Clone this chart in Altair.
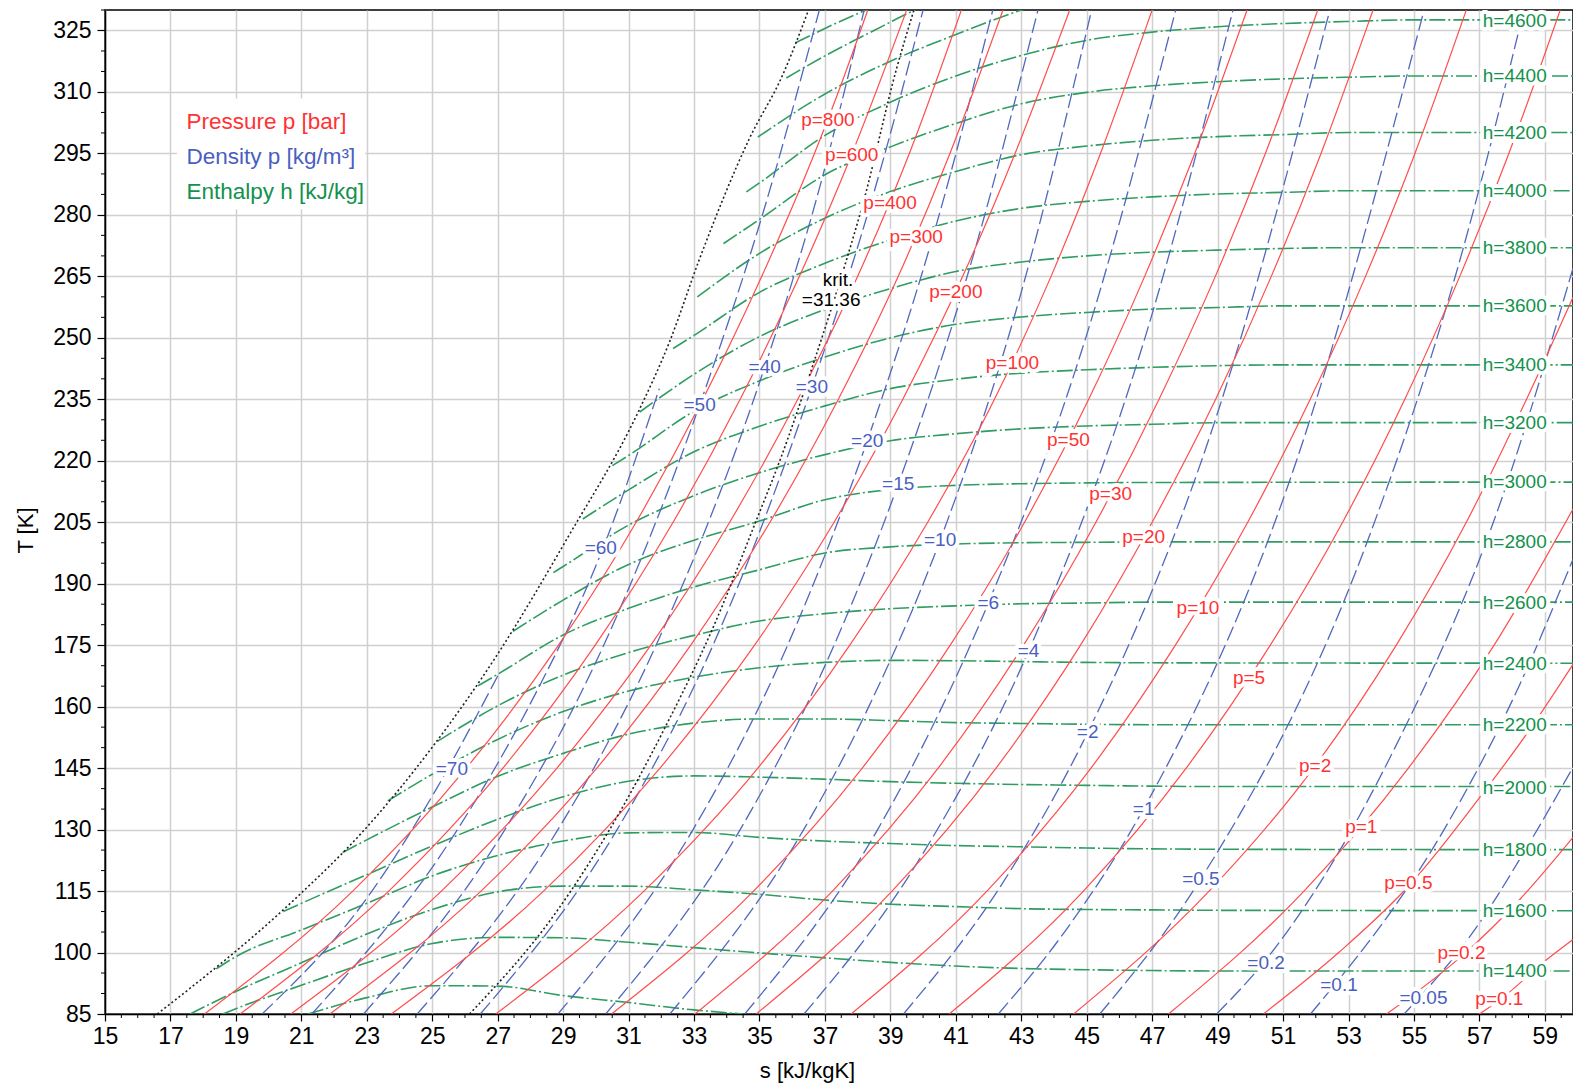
import altair as alt
import pandas as pd

# ---------------- data ----------------
# Isobars (red), s [kJ/kgK] vs T [K]
ISOBAR_NAMES = ["800", "600", "400", "300", "200", "100", "50", "30", "20", "10", "5", "2", "1", "0.5", "0.2", "0.1"]
ISOBAR_S = [
    [18.04, 22.57, 26.04, 28.86, 31.23, 33.27, 35.07, 36.68, 37.41, 38.31],
    [19.13, 23.67, 27.16, 29.98, 32.36, 34.41, 36.22, 37.83, 39.5],
    [20.68, 25.28, 28.81, 31.68, 34.09, 36.17, 38.0, 39.58, 41.17],
    [21.87, 26.49, 30.03, 32.9, 35.32, 37.41, 39.24, 40.82, 42.44],
    [23.75, 28.4, 31.96, 34.85, 37.28, 39.38, 41.21, 42.81, 44.48],
    [26.94, 31.47, 34.95, 37.76, 40.14, 42.18, 43.91, 45.42, 47.0],
    [30.48, 34.82, 38.14, 40.83, 43.1, 45.06, 46.77, 48.3, 49.9],
    [33.03, 37.23, 40.46, 43.07, 45.28, 47.21, 48.93, 50.46, 52.06],
    [34.9, 39.05, 42.23, 44.81, 47.0, 48.94, 50.64, 52.16, 53.75],
    [37.8, 41.95, 45.13, 47.71, 49.92, 51.83, 53.52, 55.03, 56.6],
    [40.8, 44.9, 48.04, 50.61, 52.82, 54.72, 56.4, 57.9, 59.47],
    [44.6, 48.74, 51.93, 54.46, 56.6, 58.44, 59.86],
    [47.5, 51.64, 54.83, 57.45, 59.86],
    [50.4, 52.7, 54.88, 57.12, 58.59, 59.86],
    [54.16, 56.51, 58.24, 59.86],
    [57.0, 57.57, 59.06, 59.86],
]
ISOBAR_T = [
    [85, 115, 145, 175, 205, 235, 265, 295, 310, 330],
    [85, 115, 145, 175, 205, 235, 265, 295, 330],
    [85, 115, 145, 175, 205, 235, 265, 295, 330],
    [85, 115, 145, 175, 205, 235, 265, 295, 330],
    [85, 115, 145, 175, 205, 235, 265, 295, 330],
    [85, 115, 145, 175, 205, 235, 265, 295, 330],
    [85, 115, 145, 175, 205, 235, 265, 295, 330],
    [85, 115, 145, 175, 205, 235, 265, 295, 330],
    [85, 115, 145, 175, 205, 235, 265, 295, 330],
    [85, 115, 145, 175, 205, 235, 265, 295, 330],
    [85, 115, 145, 175, 205, 235, 265, 295, 330],
    [85, 115, 145, 175, 205, 235, 259.9],
    [85, 115, 145, 175, 208.2],
    [85, 100, 116.6, 139, 155, 170.3],
    [85, 99.5, 113, 128.1],
    [85, 88.1, 98.3, 103.2],
]
ISOBAR_LABELS = ["p=800", "p=600", "p=400", "p=300", "p=200", "p=100", "p=50", "p=30", "p=20", "p=10",
                 "p=5", "p=2", "p=1", "p=0.5", "p=0.2", "p=0.1"]
ISOBAR_LABEL_S = [37.09, 37.82, 38.99, 39.79, 41.0, 42.73, 44.44, 45.73, 46.74, 48.4, 49.96, 51.98, 53.39, 54.83, 56.45, 57.61]
ISOBAR_LABEL_T = [303.2, 294.7, 282.9, 274.6, 261.2, 243.8, 225.0, 211.8, 201.3, 184.0, 167.1, 145.6, 130.7, 117.0, 99.9, 88.7]

# Isochores (blue, dashed)
ISOCHORE_NAMES = ["70", "60", "50", "40", "30", "20", "15", "10", "6", "4", "2", "1", "0.5", "0.2", "0.1", "0.05"]
ISOCHORE_S = [
    [19.8, 22.97, 25.11, 27.0],
    [21.32, 25.77, 27.95, 30.21, 31.94],
    [22.9, 27.22, 30.24, 33.17, 35.09, 36.83],
    [24.54, 28.84, 31.84, 35.16, 36.78, 38.2],
    [26.47, 30.65, 33.58, 36.6, 38.48, 40.0],
    [28.84, 32.97, 35.86, 38.29, 40.49, 42.13],
    [30.3, 34.41, 37.28, 39.24, 41.53, 43.51],
    [32.26, 36.35, 38.34, 40.52, 42.96, 45.15],
    [34.55, 38.61, 41.99, 44.97, 47.72],
    [36.36, 39.67, 43.22, 46.78, 49.47],
    [39.4, 42.27, 45.03, 48.93, 52.43],
    [42.3, 44.32, 46.74, 51.41, 55.31],
    [45.4, 48.49, 53.56, 56.44, 58.36],
    [48.97, 50.4, 54.42, 57.65, 59.86],
    [51.84, 55.92, 58.21, 59.86],
    [54.7, 57.02, 58.4, 59.86],
]
ISOCHORE_T = [
    [85, 112.9, 139.7, 167.5],
    [85, 130, 160, 198.5, 237.6],
    [85, 130, 175, 233.6, 280, 330],
    [85, 130, 175, 242.9, 285, 330],
    [85, 130, 175, 238, 285, 330],
    [85, 130, 175, 224.8, 280, 330],
    [85, 130, 175, 214.3, 270, 330],
    [85, 130, 160, 200.6, 260, 330],
    [85, 130, 185.2, 250, 330],
    [85, 120, 173.5, 250, 330],
    [85, 115, 153.7, 230, 330],
    [85, 105, 135.1, 220, 330],
    [85, 118, 200, 270, 330],
    [85, 97.5, 150, 210, 267],
    [85, 130, 165, 196],
    [85, 107.4, 125, 145.2],
]
ISOCHORE_LABELS = ["=70", "=60", "=50", "=40", "=30", "=20", "=15", "=10", "=6", "=4", "=2", "=1",
                   "=0.5", "=0.2", "=0.1", "=0.05"]
ISOCHORE_LABEL_S = [25.6, 30.15, 33.17, 35.16, 36.6, 38.29, 39.24, 40.52, 41.99, 43.22, 45.03, 46.74, 48.49, 50.48, 52.71, 55.29]
ISOCHORE_LABEL_T = [144.9, 198.6, 233.6, 242.9, 238.0, 224.8, 214.3, 200.6, 185.2, 173.5, 153.7, 135.1, 118.0, 97.5, 92.1, 88.9]

# Isenthalps (green, dash-dot)
ISENTH_NAMES = ["1200", "1400", "1600", "1800", "2000", "2200", "2400", "2600", "2800", "3000", "3200",
                "3400", "3600", "3800", "4000", "4200", "4400", "4600", "4800", "5000", "5200"]
ISENTH_S = [
    [21.2, 23, 25, 27, 29, 31, 33, 34.5],
    [18.6, 19, 21, 23, 25, 27, 29, 31, 33, 35, 37, 39, 41, 43, 45, 47, 49, 59.86],
    [17.6, 19, 21, 23, 25, 27, 29, 31, 33, 35, 37, 39, 41, 43, 45, 47, 49, 59.86],
    [18.4, 19, 21, 23, 25, 27, 29, 31, 33, 35, 37, 39, 41, 43, 45, 47, 49, 59.86],
    [20.45, 21, 23, 25, 27, 29, 31, 33, 35, 37, 39, 41, 43, 45, 47, 49, 59.86],
    [22.26, 23, 25, 27, 29, 31, 33, 35, 37, 39, 41, 43, 45, 47, 59.86],
    [23.64, 25, 27, 29, 31, 33, 35, 37, 39, 41, 43, 45, 47, 59.86],
    [25.17, 27, 29, 31, 33, 35, 37, 39, 41, 43, 45, 47, 59.86],
    [26.4, 27, 29, 31, 33, 35, 37, 39, 41, 43, 45, 47, 59.86],
    [27.47, 29, 31, 33, 35, 37, 39, 41, 43, 45, 47, 59.86],
    [28.7, 29, 31, 33, 35, 37, 39, 41, 43, 45, 47, 49, 59.86],
    [29.6, 31, 33, 35, 37, 39, 41, 43, 45, 47, 49, 51, 59.86],
    [30.5, 31, 33, 35, 37, 39, 41, 43, 45, 47, 49, 51, 59.86],
    [31.34, 33, 35, 37, 39, 41, 43, 45, 47, 49, 51, 53, 59.86],
    [32.36, 33, 35, 37, 39, 41, 43, 45, 47, 49, 51, 53, 59.86],
    [33.1, 35, 37, 39, 41, 43, 45, 47, 49, 51, 53, 59.86],
    [33.9, 35, 37, 39, 41, 43, 45, 47, 49, 51, 53, 55, 59.86],
    [34.6, 35, 37, 39, 41, 43, 45, 47, 49, 51, 53, 55, 59.86],
    [34.95, 37, 39, 41, 43, 43.5],
    [35.82, 37, 38.5, 39.75, 40.2],
    [36.1, 37, 38.26, 38.7],
]
ISENTH_T = [
    [85, 89, 91.9, 91.8, 89.5, 87.8, 86.0, 85],
    [85, 86.3, 92, 97.5, 102.2, 103.7, 103.6, 102.5, 101.2, 99.9, 98.7, 97.6, 96.7, 96.1, 95.8, 95.6, 95.5, 95.5],
    [85, 90.5, 97.5, 104.5, 110.5, 114.8, 116.2, 116.2, 115.3, 114.2, 112.8, 111.8, 111.2, 110.7, 110.5, 110.4, 110.3, 110.2],
    [96, 99, 105.5, 112, 118.7, 123.7, 127.2, 129.2, 129.3, 128.1, 127.2, 126.6, 126.1, 125.8, 125.5, 125.3, 125.2, 125.1],
    [110, 112, 119, 126, 132.5, 138, 141.8, 143.1, 142.8, 142.3, 141.7, 141.3, 141, 140.8, 140.6, 140.5, 140.5],
    [124.4, 127.5, 135.5, 143, 148.6, 153.3, 156, 157, 157, 156.6, 156.1, 155.9, 155.7, 155.6, 155.6],
    [137, 143.5, 152, 158.8, 163.8, 167.2, 169.5, 170.8, 171.3, 171.2, 171.0, 170.8, 170.7, 170.6],
    [151.6, 160.2, 167.7, 173.2, 177.4, 180.9, 182.7, 183.9, 184.6, 185.1, 185.3, 185.5, 185.5],
    [165.1, 167.9, 177.5, 184.0, 189.2, 193.4, 197.5, 199.0, 199.7, 200.0, 200.1, 200.2, 200.2],
    [178.4, 186.0, 194.7, 200.6, 205.3, 210.5, 213.0, 214.0, 214.4, 214.6, 214.7, 214.8],
    [192.7, 194.2, 204.3, 211.5, 217.1, 221.5, 224.9, 226.6, 227.8, 228.5, 228.9, 229.3, 229.3],
    [205.8, 212.9, 222.2, 228.4, 233.4, 237.6, 239.9, 241.4, 242.2, 242.8, 243.2, 243.4, 243.4],
    [218.8, 221.3, 232.1, 239.5, 245.3, 250.0, 253.3, 255.1, 256.2, 257.0, 257.4, 257.8, 257.8],
    [231.9, 241.1, 250.3, 256.9, 262.0, 266.2, 268.5, 270.0, 270.9, 271.4, 271.8, 272.0, 272.0],
    [247.4, 250.6, 261.1, 268.2, 273.9, 278.5, 281.6, 283.3, 284.4, 285.1, 285.5, 285.9, 285.9],
    [260, 270.6, 279.2, 285.7, 290.6, 294.7, 296.8, 298.2, 299.1, 299.6, 300.1, 300.1],
    [273, 278.9, 289.8, 296.6, 302.3, 307.1, 309.9, 311.5, 312.5, 313.2, 313.6, 313.9, 313.9],
    [285.6, 287.8, 299.4, 307.5, 313.9, 318.9, 322.6, 324.6, 325.9, 326.7, 327.2, 327.6, 327.6],
    [299, 309.5, 317.5, 324.0, 330.0, 331.3],
    [313.4, 318.8, 325.0, 330.0, 331.6],
    [322, 325.5, 330.0, 331.4],
]
ISENTH_LABELS = ["h=4600", "h=4400", "h=4200", "h=4000", "h=3800", "h=3600", "h=3400", "h=3200", "h=3000",
                 "h=2800", "h=2600", "h=2400", "h=2200", "h=2000", "h=1800", "h=1600", "h=1400"]
ISENTH_LABEL_S = [58.08] * 17
ISENTH_LABEL_T = [327.4, 313.9, 300.1, 285.9, 272.0, 257.8, 243.4, 229.2, 214.8, 200.1, 185.2, 170.5, 155.6, 140.2, 125.1, 110.2, 95.5]

# Dotted black lines: range boundary and critical isochore
BOUND_S = [16.6, 20.85, 22.9, 25.0, 26.94, 29.15, 31.3, 32.25, 33.17, 34.69, 35.7, 36.5]
BOUND_T = [85, 113.4, 129.7, 150.1, 172.1, 201.4, 232, 249, 269.3, 298.6, 314, 330]
KRIT_S = [26.14, 28.8, 30.42, 32.12, 33.62, 34.88, 35.62, 36.7, 37.62, 38.17, 39.2, 39.72]
KRIT_T = [85, 110, 130, 155, 180, 205, 220, 245, 268, 283, 316, 330]
KRIT_LABELS = ["krit.", "=31.36"]
KRIT_LABEL_S = [37.4, 37.19]
KRIT_LABEL_T = [264.0, 259.2]

# Legend
LEGEND_TEXT = ["Pressure p [bar]", "Density p [kg/m³]", "Enthalpy h [kJ/kg]"]
LEGEND_COLOR = ["#ff3333", "#4a5fc1", "#12924c"]
LEGEND_S = [17.49, 17.49, 17.49]
LEGEND_T = [302.6, 294.2, 285.6]
LEGEND_BOX_S = [17.2, 22.95]
LEGEND_BOX_T = [281.3, 308.4]

X_TICKS = list(range(15, 60, 2))
Y_TICKS = list(range(85, 330, 15))
X_MINOR = [v / 2 for v in range(30, 120) if (v / 2) not in X_TICKS]
Y_MINOR = [v for v in range(90, 331, 5) if v not in Y_TICKS]

# ---------------- build ----------------
FONT = "Liberation Sans"
W, H = 1468, 1004


def lines_df(names, S, T):
    rows = []
    for n, ss, tt in zip(names, S, T):
        for i, (a, b) in enumerate(zip(ss, tt)):
            rows.append({"name": n, "i": i, "s": a, "T": b})
    return pd.DataFrame(rows)


def labels_df(texts, S, T):
    return pd.DataFrame({"label": texts, "s": S, "T": T})


xs = alt.Scale(domain=[15, 59.86], nice=False, zero=False)
ys = alt.Scale(domain=[85, 330], nice=False, zero=False)

x_axis = alt.Axis(values=X_TICKS, grid=True, gridColor="#d0d0d0", gridWidth=1.5,
                  domainColor="black", domainWidth=1.5, tickColor="black", tickSize=7,
                  tickWidth=1.2, labelFontSize=23, labelFont=FONT, labelColor="black",
                  labelPadding=4, labelFlush=False, labelOverlap=False,
                  title="s [kJ/kgK]", titleFont=FONT, titleFontSize=22, titleFontWeight="normal",
                  titleColor="black", titleX=702, titleY=56, titleAlign="center",
                  titleBaseline="middle")
y_axis = alt.Axis(values=Y_TICKS, grid=True, gridColor="#d0d0d0", gridWidth=1.5,
                  domainColor="black", domainWidth=1.5, tickColor="black", tickSize=8,
                  tickWidth=1.2, labelFontSize=23, labelFont=FONT, labelColor="black",
                  labelPadding=6, labelFlush=False, labelOverlap=False,
                  title="T [K]", titleFont=FONT, titleFontSize=22, titleFontWeight="normal",
                  titleColor="black", titleX=-80, titleY=520, titleAngle=270,
                  titleAlign="center", titleBaseline="middle")


def XY(xf="s", yf="T"):
    return dict(x=alt.X(f"{xf}:Q", scale=xs, axis=x_axis),
                y=alt.Y(f"{yf}:Q", scale=ys, axis=y_axis))


green_df = lines_df(ISENTH_NAMES, ISENTH_S, ISENTH_T)
blue_df = lines_df(ISOCHORE_NAMES, ISOCHORE_S, ISOCHORE_T)
red_df = lines_df(ISOBAR_NAMES, ISOBAR_S, ISOBAR_T)
dot_df = pd.concat([lines_df(["bound"], [BOUND_S], [BOUND_T]),
                    lines_df(["krit"], [KRIT_S], [KRIT_T])])

green = alt.Chart(green_df).mark_line(color="#2f9d62", strokeWidth=1.6, strokeDash=[16, 3, 2, 3],
                                      interpolate="monotone", clip=True).encode(
    **XY(), detail="name:N", order="i:Q")
blue = alt.Chart(blue_df).mark_line(color="#5068bd", strokeWidth=1.3, strokeDash=[15, 5],
                                    interpolate="monotone", clip=True).encode(
    **XY(), detail="name:N", order="i:Q")
red = alt.Chart(red_df).mark_line(color="#ff4d4d", strokeWidth=1.2,
                                  interpolate="monotone", clip=True).encode(
    **XY(), detail="name:N", order="i:Q")
dotted = alt.Chart(dot_df).mark_line(color="#222222", strokeWidth=1.6, strokeDash=[2, 2.5],
                                     interpolate="monotone", clip=True).encode(
    **XY(), detail="name:N", order="i:Q")

xminor = alt.Chart(pd.DataFrame({"s": X_MINOR})).mark_rule(color="black", strokeWidth=1).encode(
    x=alt.X("s:Q", scale=xs, axis=x_axis), y=alt.value(H), y2=alt.value(H + 4))
yminor = alt.Chart(pd.DataFrame({"T": Y_MINOR})).mark_rule(color="black", strokeWidth=1).encode(
    y=alt.Y("T:Q", scale=ys, axis=y_axis), x=alt.value(-4), x2=alt.value(0))

legend_box = alt.Chart(pd.DataFrame({"s": [LEGEND_BOX_S[0]], "s2": [LEGEND_BOX_S[1]],
                                     "T": [LEGEND_BOX_T[0]], "T2": [LEGEND_BOX_T[1]]})).mark_rect(
    color="white").encode(**XY(), x2="s2", y2="T2")
legend_text = alt.Chart(pd.DataFrame({"label": LEGEND_TEXT, "c": LEGEND_COLOR, "s": LEGEND_S,
                                      "T": LEGEND_T})).mark_text(
    align="left", baseline="middle", font=FONT, fontSize=22.5).encode(
    **XY(), text="label:N", color=alt.Color("c:N", scale=None))


def label_layers(df, color, size=19):
    halo = alt.Chart(df).mark_text(align="center", baseline="middle", font=FONT, fontSize=size,
                                   stroke="white", strokeWidth=8, strokeJoin="round",
                                   color="white").encode(**XY(), text="label:N")
    txt = alt.Chart(df).mark_text(align="center", baseline="middle", font=FONT, fontSize=size,
                                  color=color).encode(**XY(), text="label:N")
    return [halo, txt]


layers = [green, blue, red, dotted, xminor, yminor, legend_box, legend_text]
layers += label_layers(labels_df(ISOBAR_LABELS, ISOBAR_LABEL_S, ISOBAR_LABEL_T), "#ff3333")
layers += label_layers(labels_df(ISOCHORE_LABELS, ISOCHORE_LABEL_S, ISOCHORE_LABEL_T), "#4a5fc1")
layers += label_layers(labels_df(ISENTH_LABELS, ISENTH_LABEL_S, ISENTH_LABEL_T), "#12924c")
layers += label_layers(labels_df(KRIT_LABELS, KRIT_LABEL_S, KRIT_LABEL_T), "black")

chart = alt.layer(*layers).properties(
    width=W, height=H,
    autosize=alt.AutoSizeParams(type="none"),
    padding={"left": 105, "top": 10, "right": 0, "bottom": 72},
    background="white",
).configure_view(stroke="black", strokeWidth=1.5)

chart.save("out.html", embed_options={"renderer": "svg", "actions": False})
